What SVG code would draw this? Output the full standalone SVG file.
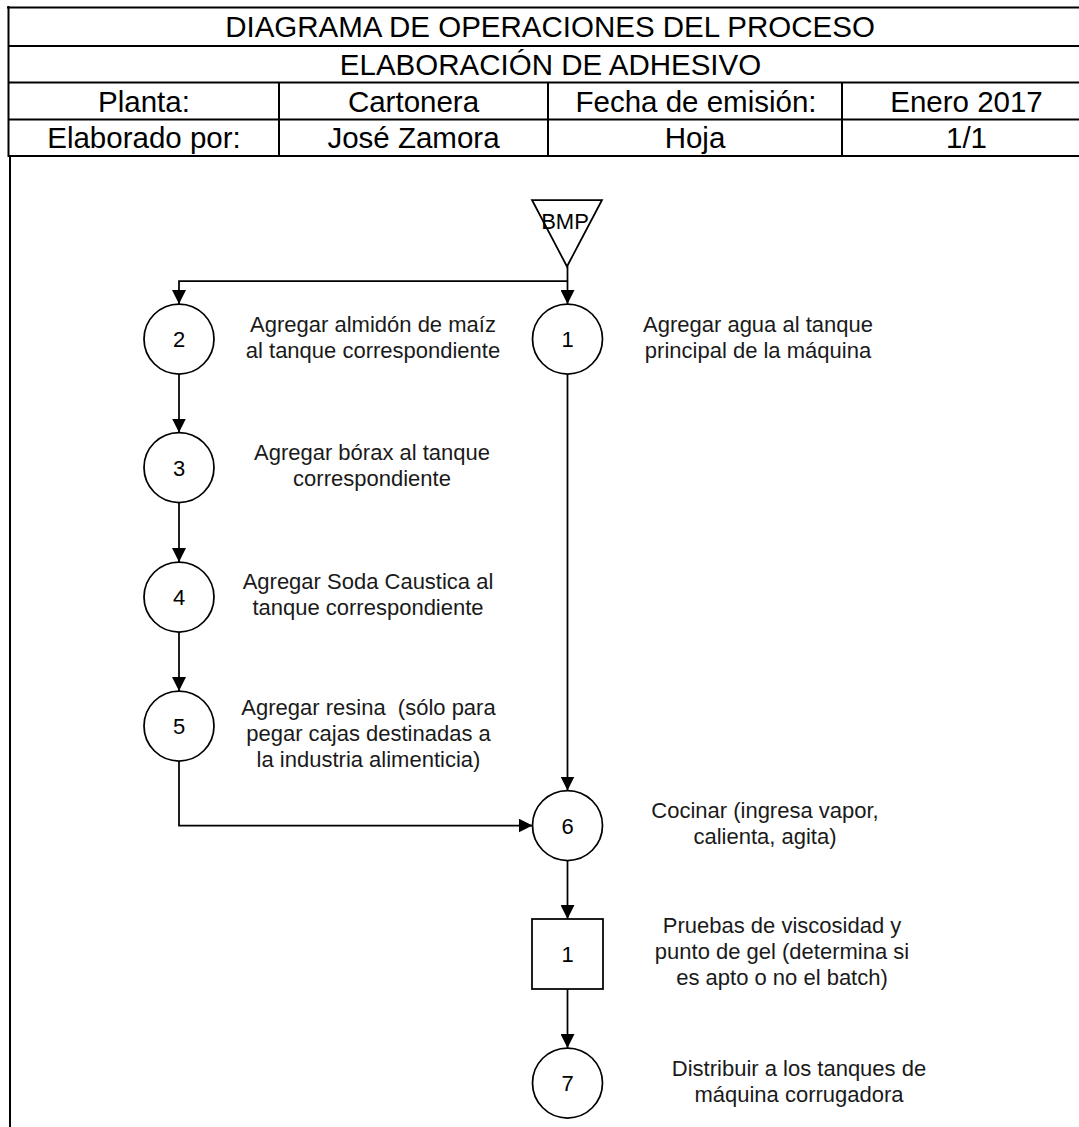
<svg xmlns="http://www.w3.org/2000/svg" width="1079" height="1127" viewBox="0 0 1079 1127">
<style>
.hdr{font-family:"Liberation Sans",Arial,sans-serif;font-size:29.5px;fill:#000;text-anchor:middle}
.lbl{font-family:"Liberation Sans",Arial,sans-serif;font-size:22px;fill:#1a1a1a;text-anchor:middle;white-space:pre}
.num{font-family:"Liberation Sans",Arial,sans-serif;font-size:22px;fill:#000;text-anchor:middle}
.tl{stroke:#000;stroke-width:2;fill:none}
.shape{fill:#fff;stroke:#000;stroke-width:1.75}
.conn{fill:none;stroke:#000;stroke-width:1.75;marker-end:url(#arr)}
</style>
<defs>
<marker id="arr" markerUnits="userSpaceOnUse" markerWidth="14" markerHeight="14" refX="14" refY="7" orient="auto" viewBox="0 0 14 14">
<path d="M0,0 L14,7 L0,14 z" fill="#000"/>
</marker>
</defs>
<rect width="1079" height="1127" fill="#fff"/>
<g id="header">
<line class="tl" x1="7" y1="7.5" x2="1079" y2="7.5" stroke-width="3"/>
<line class="tl" x1="8.5" y1="6" x2="8.5" y2="157" stroke-width="3"/>
<line class="tl" x1="8.5" y1="46" x2="1079" y2="46"/>
<line class="tl" x1="8.5" y1="82.5" x2="1079" y2="82.5"/>
<line class="tl" x1="8.5" y1="119.5" x2="1079" y2="119.5"/>
<line class="tl" x1="8.5" y1="156" x2="1079" y2="156"/>
<line class="tl" x1="279" y1="82.5" x2="279" y2="156"/>
<line class="tl" x1="548" y1="82.5" x2="548" y2="156"/>
<line class="tl" x1="842" y1="82.5" x2="842" y2="156"/>
<line class="tl" x1="10" y1="156" x2="10" y2="1127" stroke-width="1.5"/>
<text class="hdr" x="550" y="37.3">DIAGRAMA DE OPERACIONES DEL PROCESO</text>
<text class="hdr" x="550.5" y="74.8">ELABORACIÓN DE ADHESIVO</text>
<text class="hdr" x="144" y="111.5">Planta:</text>
<text class="hdr" x="413.5" y="111.5">Cartonera</text>
<text class="hdr" x="696" y="111.5">Fecha de emisión:</text>
<text class="hdr" x="966.5" y="111.5">Enero 2017</text>
<text class="hdr" x="144" y="148.2">Elaborado por:</text>
<text class="hdr" x="413.5" y="148.2">José Zamora</text>
<text class="hdr" x="695" y="148.2">Hoja</text>
<text class="hdr" x="966.5" y="148.2">1/1</text>
</g>
<g id="connectors">
<path class="conn" d="M567.5,266 L567.5,304"/>
<path class="conn" d="M567.5,281 L179,281 L179,304"/>
<path class="conn" d="M179,374 L179,432.5"/>
<path class="conn" d="M179,502.5 L179,562"/>
<path class="conn" d="M179,632 L179,691"/>
<path class="conn" d="M179,761 L179,825.5 L532.5,825.5"/>
<path class="conn" d="M567.5,374 L567.5,790.5"/>
<path class="conn" d="M567.5,860.5 L567.5,919"/>
<path class="conn" d="M567.5,989 L567.5,1048"/>
</g>
<g id="bmp">
<polygon class="shape" points="532,200 602,200 567,266.5"/>
<text class="num" x="565" y="228.5" fill="#222">BMP</text>
</g>
<g id="op1">
<circle class="shape" cx="567.5" cy="339" r="35"/>
<text class="num" x="567.5" y="347">1</text>
<text class="lbl" x="758"><tspan x="758" y="331.5">Agregar agua al tanque</tspan><tspan x="758" y="357.5">principal de la máquina</tspan></text>
</g>
<g id="op2">
<circle class="shape" cx="179" cy="339" r="35"/>
<text class="num" x="179" y="347">2</text>
<text class="lbl" x="373"><tspan x="373" y="331.5">Agregar almidón de maíz</tspan><tspan x="373" y="357.5">al tanque correspondiente</tspan></text>
</g>
<g id="op3">
<circle class="shape" cx="179" cy="467.5" r="35"/>
<text class="num" x="179" y="475.5">3</text>
<text class="lbl" x="372"><tspan x="372" y="460">Agregar bórax al tanque</tspan><tspan x="372" y="486">correspondiente</tspan></text>
</g>
<g id="op4">
<circle class="shape" cx="179" cy="597" r="35"/>
<text class="num" x="179" y="605">4</text>
<text class="lbl" x="368"><tspan x="368" y="589">Agregar Soda Caustica al</tspan><tspan x="368" y="615">tanque correspondiente</tspan></text>
</g>
<g id="op5">
<circle class="shape" cx="179" cy="726" r="35"/>
<text class="num" x="179" y="734">5</text>
<text class="lbl" x="368.5"><tspan x="368.5" y="715">Agregar resina  (sólo para</tspan><tspan x="368.5" y="741">pegar cajas destinadas a</tspan><tspan x="368.5" y="767">la industria alimenticia)</tspan></text>
</g>
<g id="op6">
<circle class="shape" cx="567.5" cy="825.5" r="35"/>
<text class="num" x="567.5" y="833.5">6</text>
<text class="lbl" x="765"><tspan x="765" y="818">Cocinar (ingresa vapor,</tspan><tspan x="765" y="844">calienta, agita)</tspan></text>
</g>
<g id="insp1">
<rect class="shape" x="532" y="919" width="71" height="70"/>
<text class="num" x="567.5" y="962">1</text>
<text class="lbl" x="782"><tspan x="782" y="933">Pruebas de viscosidad y</tspan><tspan x="782" y="959">punto de gel (determina si</tspan><tspan x="782" y="985">es apto o no el batch)</tspan></text>
</g>
<g id="op7">
<circle class="shape" cx="567.5" cy="1083" r="35"/>
<text class="num" x="567.5" y="1091">7</text>
<text class="lbl" x="799"><tspan x="799" y="1076">Distribuir a los tanques de</tspan><tspan x="799" y="1102">máquina corrugadora</tspan></text>
</g>
</svg>
